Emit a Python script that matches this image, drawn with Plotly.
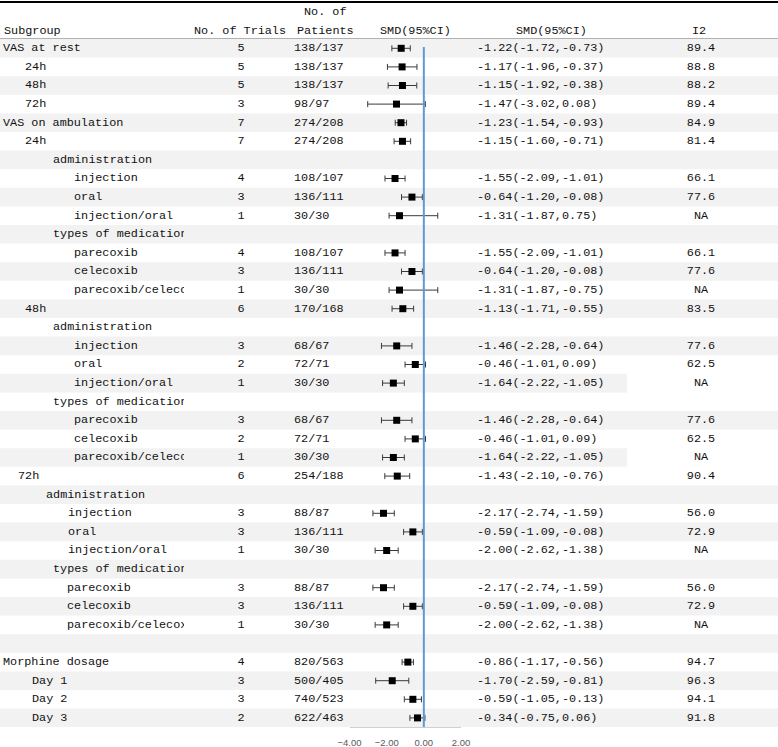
import plotly.graph_objects as go

# ---------------- data ----------------
subgroups = [
    "VAS at rest", "24h", "48h", "72h",
    "VAS on ambulation", "24h",
    "administration", "injection", "oral", "injection/oral",
    "types of medication", "parecoxib", "celecoxib", "parecoxib/celecoxib",
    "48h",
    "administration", "injection", "oral", "injection/oral",
    "types of medication", "parecoxib", "celecoxib", "parecoxib/celecoxib",
    "72h",
    "administration", "injection", "oral", "injection/oral",
    "types of medication", "parecoxib", "celecoxib", "parecoxib/celecoxib",
    "",
    "Morphine dosage", "Day 1", "Day 2", "Day 3",
]
trials = ["5", "5", "5", "3", "7", "7", "", "4", "3", "1", "", "4", "3", "1",
          "6", "", "3", "2", "1", "", "3", "2", "1",
          "6", "", "3", "3", "1", "", "3", "3", "1",
          "", "4", "3", "3", "2"]
patients = ["138/137", "138/137", "138/137", "98/97", "274/208", "274/208",
            "", "108/107", "136/111", "30/30", "", "108/107", "136/111", "30/30",
            "170/168", "", "68/67", "72/71", "30/30", "", "68/67", "72/71", "30/30",
            "254/188", "", "88/87", "136/111", "30/30", "", "88/87", "136/111", "30/30",
            "", "820/563", "500/405", "740/523", "622/463"]
smd = [-1.22, -1.17, -1.15, -1.47, -1.23, -1.15,
       None, -1.55, -0.64, -1.31, None, -1.55, -0.64, -1.31,
       -1.13, None, -1.46, -0.46, -1.64, None, -1.46, -0.46, -1.64,
       -1.43, None, -2.17, -0.59, -2.00, None, -2.17, -0.59, -2.00,
       None, -0.86, -1.70, -0.59, -0.34]
ci_low = [-1.72, -1.96, -1.92, -3.02, -1.54, -1.60,
          None, -2.09, -1.20, -1.87, None, -2.09, -1.20, -1.87,
          -1.71, None, -2.28, -1.01, -2.22, None, -2.28, -1.01, -2.22,
          -2.10, None, -2.74, -1.09, -2.62, None, -2.74, -1.09, -2.62,
          None, -1.17, -2.59, -1.05, -0.75]
ci_high = [-0.73, -0.37, -0.38, 0.08, -0.93, -0.71,
           None, -1.01, -0.08, 0.75, None, -1.01, -0.08, 0.75,
           -0.55, None, -0.64, 0.09, -1.05, None, -0.64, 0.09, -1.05,
           -0.76, None, -1.59, -0.08, -1.38, None, -1.59, -0.08, -1.38,
           None, -0.56, -0.81, -0.13, 0.06]
smd_ci_text = [
    "-1.22(-1.72,-0.73)", "-1.17(-1.96,-0.37)", "-1.15(-1.92,-0.38)", "-1.47(-3.02,0.08)",
    "-1.23(-1.54,-0.93)", "-1.15(-1.60,-0.71)",
    "", "-1.55(-2.09,-1.01)", "-0.64(-1.20,-0.08)", "-1.31(-1.87,0.75)",
    "", "-1.55(-2.09,-1.01)", "-0.64(-1.20,-0.08)", "-1.31(-1.87,-0.75)",
    "-1.13(-1.71,-0.55)",
    "", "-1.46(-2.28,-0.64)", "-0.46(-1.01,0.09)", "-1.64(-2.22,-1.05)",
    "", "-1.46(-2.28,-0.64)", "-0.46(-1.01,0.09)", "-1.64(-2.22,-1.05)",
    "-1.43(-2.10,-0.76)",
    "", "-2.17(-2.74,-1.59)", "-0.59(-1.09,-0.08)", "-2.00(-2.62,-1.38)",
    "", "-2.17(-2.74,-1.59)", "-0.59(-1.09,-0.08)", "-2.00(-2.62,-1.38)",
    "",
    "-0.86(-1.17,-0.56)", "-1.70(-2.59,-0.81)", "-0.59(-1.05,-0.13)", "-0.34(-0.75,0.06)",
]
i2 = ["89.4", "88.8", "88.2", "89.4", "84.9", "81.4",
      "", "66.1", "77.6", "NA", "", "66.1", "77.6", "NA",
      "83.5", "", "77.6", "62.5", "NA", "", "77.6", "62.5", "NA",
      "90.4", "", "56.0", "72.9", "NA", "", "56.0", "72.9", "NA",
      "", "94.7", "96.3", "94.1", "91.8"]
headers = ["Subgroup", "No. of Trials", "No. of", "Patients", "SMD(95%CI)", "SMD(95%CI)", "I2"]
tick_vals = [-4, -2, 0, 2]

# ---------------- style / layout ----------------
W, H = 778, 747
ROW_TOP, ROW_H = 39.0, 18.6
N = len(subgroups)
ROW_BOT = ROW_TOP + N * ROW_H
indent_px = [3, 25, 25, 25, 3, 25, 53, 74, 74, 74, 53, 74, 74, 74,
             25, 53, 74, 74, 74, 53, 74, 74, 74,
             18, 46, 68, 68, 68, 53, 67, 67, 67,
             3, 3, 32, 32, 32]
short_band_rows = [18, 22]   # shading ends early on these rows
FONT = "Liberation Mono"
FS = 11.8
TXT = "#111111"
rows = list(range(N))


def px(x):
    return x / W


def py(y):
    return 1 - y / H


fig = go.Figure()

# subgroup column (clipped at the column edge)
fig.add_trace(go.Scatter(
    x=indent_px, y=rows, mode="text", text=subgroups, textposition="middle right",
    textfont=dict(family=FONT, size=FS, color=TXT), xaxis="x3", yaxis="y2",
    cliponaxis=True, hoverinfo="skip", showlegend=False))
# trials
fig.add_trace(go.Scatter(
    x=[241] * N, y=rows, mode="text", text=trials, textposition="middle center",
    textfont=dict(family=FONT, size=FS, color=TXT), xaxis="x4", yaxis="y2",
    cliponaxis=False, hoverinfo="skip", showlegend=False))
# patients
fig.add_trace(go.Scatter(
    x=[294] * N, y=rows, mode="text", text=patients, textposition="middle right",
    textfont=dict(family=FONT, size=FS, color=TXT), xaxis="x4", yaxis="y2",
    cliponaxis=False, hoverinfo="skip", showlegend=False))
# smd ci text
fig.add_trace(go.Scatter(
    x=[477] * N, y=rows, mode="text", text=smd_ci_text, textposition="middle right",
    textfont=dict(family=FONT, size=FS, color=TXT), xaxis="x4", yaxis="y2",
    cliponaxis=False, hoverinfo="skip", showlegend=False))
# I2
fig.add_trace(go.Scatter(
    x=[701] * N, y=rows, mode="text", text=i2, textposition="middle center",
    textfont=dict(family=FONT, size=FS, color=TXT), xaxis="x4", yaxis="y2",
    cliponaxis=False, hoverinfo="skip", showlegend=False))

# forest markers
err_plus = [(h - m) if m is not None else None for m, h in zip(smd, ci_high)]
err_minus = [(m - l) if m is not None else None for m, l in zip(smd, ci_low)]
fig.add_trace(go.Scatter(
    x=smd, y=rows, mode="markers", xaxis="x2", yaxis="y2",
    marker=dict(symbol="square", size=7, color="black"),
    error_x=dict(type="data", symmetric=False, array=err_plus, arrayminus=err_minus,
                 color="#3a3a3a", thickness=1, width=3),
    cliponaxis=False, hoverinfo="skip", showlegend=False))

shapes = []
for r in range(0, N, 2):
    x1 = px(627) if r in short_band_rows else 1
    shapes.append(dict(type="rect", xref="paper", yref="y2", x0=0, x1=x1,
                       y0=r - 0.5, y1=r + 0.5, fillcolor="#f2f2f2",
                       line=dict(width=0), layer="below"))
# top rule and header rule
shapes.append(dict(type="line", xref="paper", yref="paper", x0=0, x1=1,
                   y0=py(2), y1=py(2), line=dict(color="black", width=2)))
shapes.append(dict(type="line", xref="paper", yref="paper", x0=0, x1=1,
                   y0=py(38.5), y1=py(38.5), line=dict(color="#b0b0b0", width=1)))
# null line
shapes.append(dict(type="line", xref="x2", yref="y2", x0=0, x1=0,
                   y0=-0.07, y1=N - 0.5, line=dict(color="#5b9bd5", width=2)))

annotations = []
hdr_y = 31
for txt, x, y, anchor in [
    (headers[0], 2, hdr_y, "left"),
    (headers[1], 240, hdr_y, "center"),
    (headers[2], 325, 12, "center"),
    (headers[3], 325, hdr_y, "center"),
    (headers[4], 416, hdr_y, "center"),
    (headers[5], 551, hdr_y, "center"),
    (headers[6], 699, hdr_y, "center"),
]:
    annotations.append(dict(text=txt, xref="paper", yref="paper", x=px(x), y=py(y),
                            xanchor=anchor, yanchor="middle", showarrow=False,
                            font=dict(family=FONT, size=FS, color=TXT)))

ydom = [py(ROW_BOT), py(ROW_TOP)]
hidden = dict(visible=False, automargin=False)
fig.update_layout(
    width=W, height=H, autosize=False,
    margin=dict(l=0, r=0, t=0, b=0, pad=0, autoexpand=False),
    paper_bgcolor="white", plot_bgcolor="rgba(0,0,0,0)",
    shapes=shapes, annotations=annotations, showlegend=False,
    xaxis=dict(domain=[0, 1], **hidden),
    yaxis=dict(domain=[0, 1], **hidden),
    xaxis2=dict(domain=[px(349.5), px(461)], range=[-4, 2], anchor="y2",
                showline=True, linecolor="#d0d0d0", linewidth=1, showgrid=False,
                zeroline=False, ticks="", tickvals=tick_vals, tickformat=".2f",
                tickfont=dict(family="Liberation Sans", size=9.5, color="#595959"),
                ticklabelstandoff=6, fixedrange=True, automargin=False),
    xaxis3=dict(domain=[0, px(184)], range=[0, 184], anchor="y2", **hidden),
    xaxis4=dict(domain=[0, 1], range=[0, W], anchor="y2", **hidden),
    yaxis2=dict(domain=ydom, range=[N - 0.5, -0.5], anchor="x2", **hidden),
)

fig.write_html(
    "out.html",
    config={"displayModeBar": False},
    post_script="document.body.style.margin='0';document.body.style.padding='0';"
                "document.body.style.overflow='hidden';",
)
